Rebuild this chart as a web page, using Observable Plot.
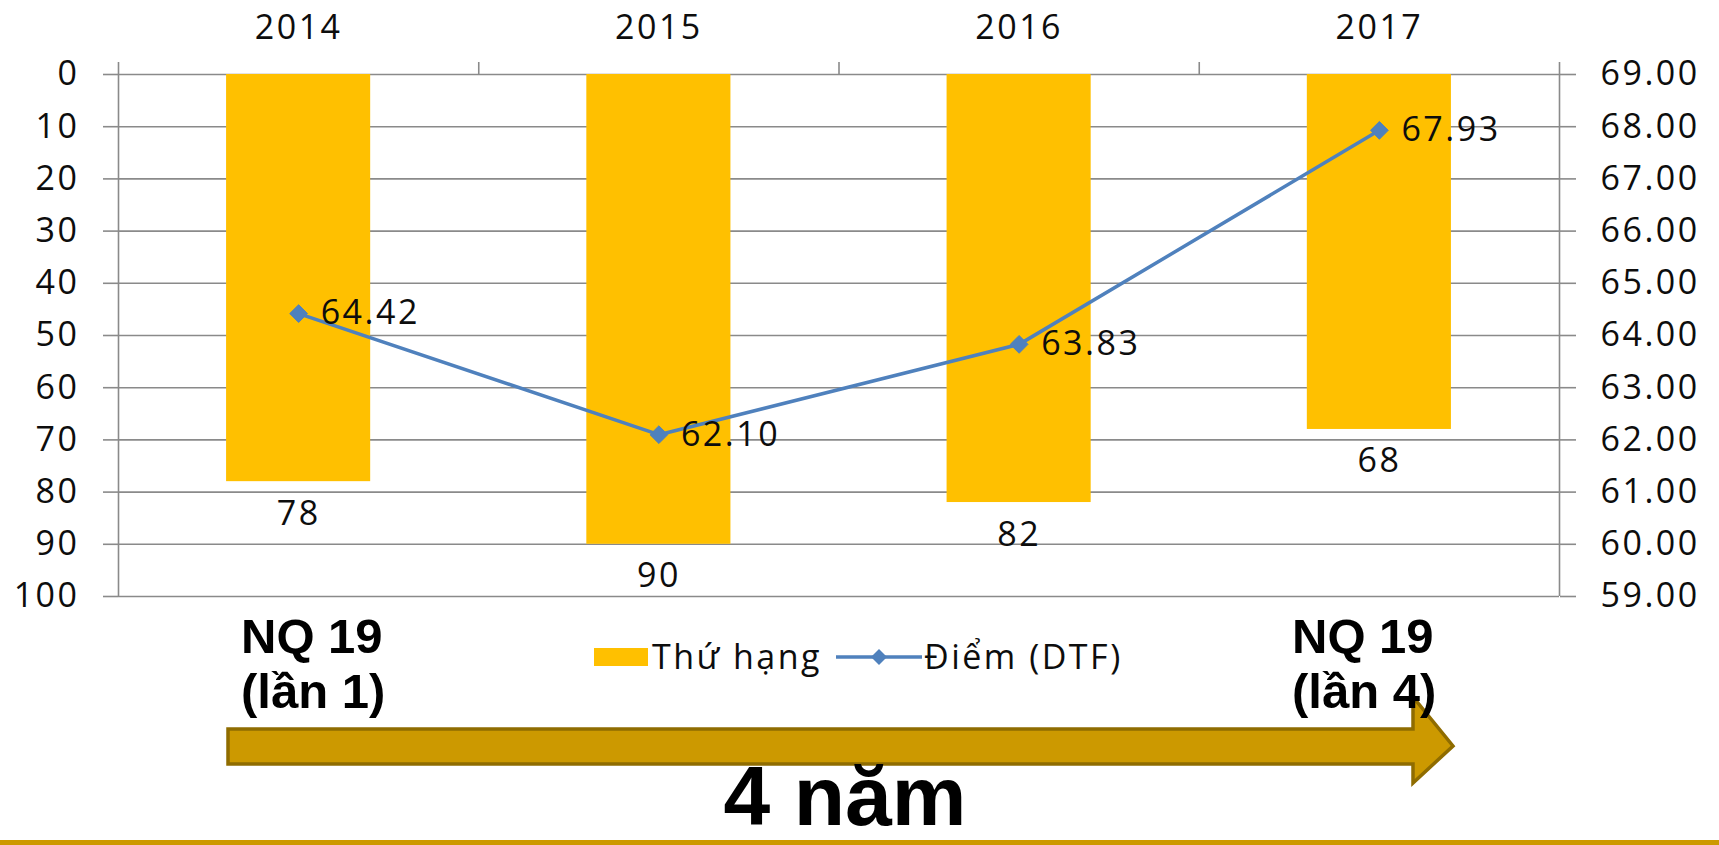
<!DOCTYPE html>
<html><head><meta charset="utf-8">
<script src="https://cdn.jsdelivr.net/npm/d3@7"></script>
<script src="https://cdn.jsdelivr.net/npm/@observablehq/plot@0.6"></script>
<style>
html,body{margin:0;padding:0;background:#fff;}
#wrap{position:relative;width:1719px;height:845px;overflow:hidden;background:#fff;}
#chart{position:absolute;left:0;top:0;}
#chart svg text{letter-spacing:2.5px;}
#deco{position:absolute;left:0;top:0;}
</style></head>
<body>
<div id="wrap">
  <div id="chart"></div>
  <svg id="deco" width="1719" height="845" xmlns="http://www.w3.org/2000/svg">
    <rect x="0" y="840" width="1719" height="5" fill="#CC9900"/>
    <polygon points="228,729 1413,729 1413,697 1453,746 1413,783 1413,764 228,764" fill="#CC9900" stroke="#8F6C00" stroke-width="3.5" stroke-linejoin="miter"/>
    <g font-family="Liberation Sans, Arial, sans-serif" font-weight="bold" fill="#000">
      <text x="241" y="653" font-size="49">NQ 19</text>
      <text x="241" y="708" font-size="49">(lần 1)</text>
      <text x="1292" y="653" font-size="49">NQ 19</text>
      <text x="1292" y="708" font-size="49">(lần 4)</text>
      <text x="845" y="825" font-size="84" text-anchor="middle">4 năm</text>
    </g>
    <g font-family="Open Sans, sans-serif" font-size="34" fill="#0d0d0d" style="letter-spacing:2.5px">
      <rect x="594" y="648" width="54" height="18" fill="#FFC000"/>
      <text x="652" y="669">Thứ hạng</text>
      <line x1="836" y1="657" x2="922" y2="657" stroke="#4F81BD" stroke-width="3.5"/>
      <path d="M879,649 L887,657 L879,665 L871,657 Z" fill="#4F81BD"/>
      <text x="924" y="669">Điểm (DTF)</text>
    </g>
  </svg>
</div>
<script>
// ---- data ----
const years = ["2014", "2015", "2016", "2017"];
const ranks = [78, 90, 82, 68];                 // Thứ hạng (left axis, reversed)
const dtfScores = [64.42, 62.10, 63.83, 67.93]; // Điểm (DTF) (right axis)
const rankTicks = [0, 10, 20, 30, 40, 50, 60, 70, 80, 90, 100];
const dtfTicks = [69, 68, 67, 66, 65, 64, 63, 62, 61, 60, 59];

// map right-axis values onto the shared y scale
const dtfToRank = d3.scaleLinear().domain([59, 69]).range([100, 0]);
const barWidth = 0.4;
const data = years.map((year, i) => ({
  year, i, rank: ranks[i], dtf: dtfScores[i], yDtf: dtfToRank(dtfScores[i])
}));

const gridColor = "#8a8a8a";
const textColor = "#0d0d0d";

const chart = Plot.plot({
  width: 1719,
  height: 845,
  marginLeft: 118,
  marginRight: 160,
  marginTop: 74,
  marginBottom: 249,
  x: {domain: [0, years.length], label: null},
  y: {domain: [100, 0], label: null},
  style: {fontFamily: '"Open Sans", sans-serif', fontSize: "34px", color: textColor, background: "transparent", overflow: "visible"},
  marks: [
    Plot.ruleY(rankTicks, {stroke: gridColor, strokeWidth: 1.6}),
    Plot.rectY(data, {
      x1: d => d.i + 0.5 - barWidth / 2,
      x2: d => d.i + 0.5 + barWidth / 2,
      y1: 0, y2: "rank", fill: "#FFC000"
    }),
    // vertical axis lines and category separators
    Plot.ruleX([0, years.length], {y1: 0, y2: 100, insetTop: -12, stroke: gridColor, strokeWidth: 1.6}),
    Plot.ruleX(d3.range(1, years.length), {y1: 0, y2: 0, insetTop: -12, stroke: gridColor, strokeWidth: 1.6}),
    Plot.axisY({anchor: "left", ticks: rankTicks, tickSize: 15, tickPadding: 24, color: textColor, stroke: gridColor, strokeWidth: 1.6, label: null}),
    Plot.axisY({anchor: "right", ticks: dtfTicks.map(dtfToRank), tickFormat: v => dtfToRank.invert(v).toFixed(2),
      tickSize: 16, tickPadding: 25, color: textColor, stroke: gridColor, strokeWidth: 1.6, label: null}),
    Plot.axisX({anchor: "top", ticks: data.map(d => d.i + 0.5), tickFormat: v => years[Math.floor(v)],
      tickSize: 0, tickPadding: 36, color: textColor, label: null}),
    Plot.text(data, {x: d => d.i + 0.5, y: "rank", text: d => String(d.rank), lineAnchor: "bottom", dy: 43, fill: textColor}),
    Plot.line(data, {x: d => d.i + 0.5, y: "yDtf", stroke: "#4F81BD", strokeWidth: 3.5}),
    Plot.dot(data, {x: d => d.i + 0.5, y: "yDtf", symbol: "diamond2", r: 8, fill: "#4F81BD", stroke: "#4F81BD", strokeWidth: 1}),
    Plot.text(data, {x: d => d.i + 0.5, y: "yDtf", text: d => d.dtf.toFixed(2), textAnchor: "start", dx: 22, fill: textColor})
  ]
});
document.getElementById("chart").appendChild(chart);
</script>
</body></html>
